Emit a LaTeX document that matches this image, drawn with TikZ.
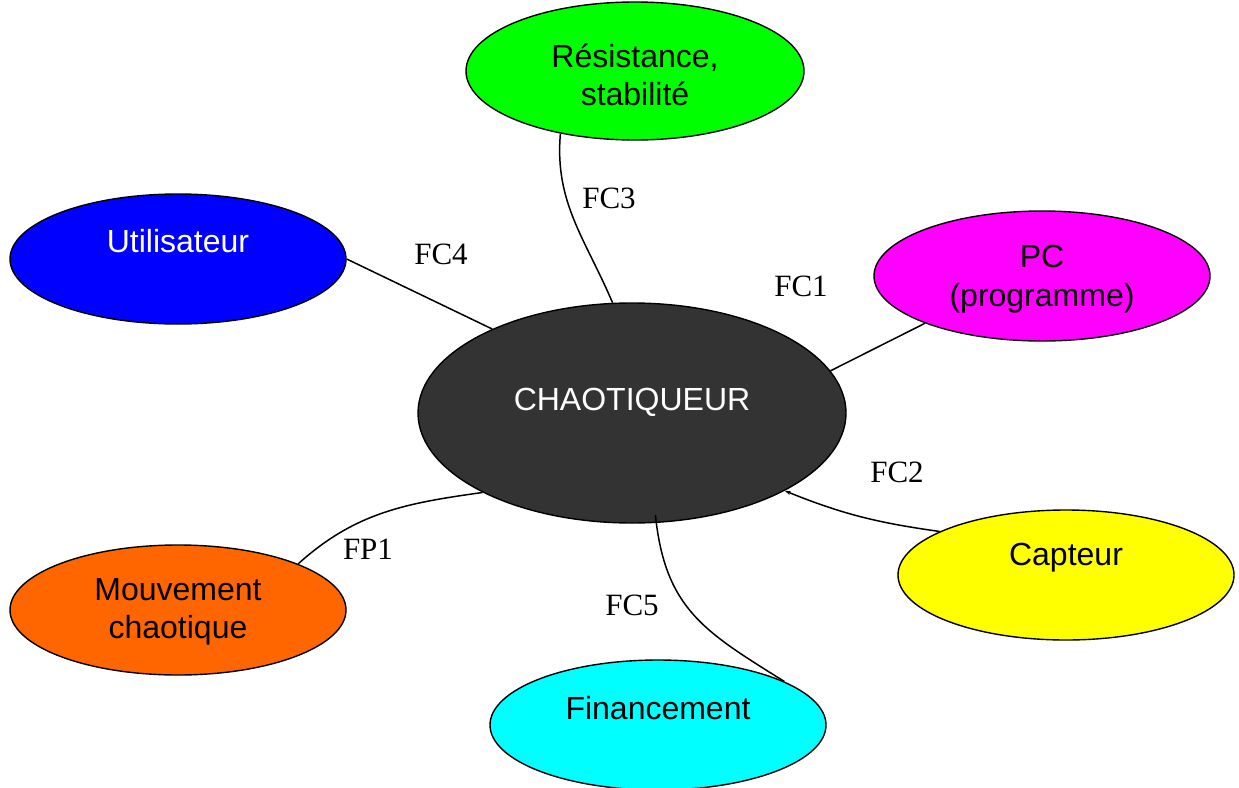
\documentclass[tikz,border=0pt]{standalone}
\usepackage{fontspec}
\setmainfont{Liberation Serif}
\newfontfamily\arialfont{Liberation Sans}
\usetikzlibrary{shapes.geometric,arrows.meta}
\definecolor{cgreen}{RGB}{0,255,0}
\definecolor{cblue}{RGB}{0,0,255}
\definecolor{cmag}{RGB}{255,0,255}
\definecolor{cdark}{RGB}{51,51,51}
\definecolor{cyel}{RGB}{255,255,0}
\definecolor{corange}{RGB}{255,102,0}
\definecolor{ccyan}{RGB}{0,255,255}
\tikzset{
  oval/.style={ellipse, draw=black, line width=1.4pt, inner sep=0pt,
    minimum width=336pt, minimum height=130pt},
  txt/.style={font=\arialfont\fontsize{32}{38.5}\selectfont, align=center, inner sep=0pt},
  lab/.style={font=\fontsize{31}{36}\selectfont, inner sep=0pt},
  conn/.style={draw=black, line width=1.5pt}
}
\begin{document}
\begin{tikzpicture}[x=1pt,y=1pt]
\useasboundingbox (0,0) rectangle (1239,-787);
% ellipses
\node[oval, fill=cgreen, minimum width=338pt, minimum height=138pt] (res) at (635,-71) {};
\node[oval, fill=cblue] (util) at (178,-259) {};
\node[oval, fill=cmag] (pc) at (1042,-276) {};
\node[oval, fill=cdark, minimum width=428pt, minimum height=220pt] (chaos) at (632,-413) {};
\node[oval, fill=cyel] (capt) at (1066,-575) {};
\node[oval, fill=corange] (mouv) at (178,-610) {};
\node[oval, fill=ccyan] (fin) at (658,-725) {};
% texts
\node[txt] (tres) at (635,-75) {Résistance,\\stabilité};
\node[txt, text=white] (tutil) at (178,-241) {Utilisateur};
\node[txt] (tpc) at (1042,-279) {PC\\(programme)};
\node[txt, text=white] (tchaos) at (632,-402) {CHAOTIQUEUR};
\node[txt] (tcapt) at (1066,-558) {Capteur};
\node[txt] (tmouv) at (178,-612) {Mouvement\\chaotique};
\node[txt] (tfin) at (658,-708) {Financement};
% connectors
\draw[conn] (res.220.5) to[out=-95, in=113] (chaos.100);
\draw[conn] (util.0) -- (chaos.149.7);
\draw[conn] (pc.202.2) -- (chaos.12.5);
\draw[conn, -{Stealth[length=6pt,width=4pt]}] (capt.161.8) to[out=172, in=-22] (chaos.-27.6);
\draw[conn] (mouv.21.4) to[out=42, in=188] (chaos.208.3);
\draw[conn] ([yshift=8pt]chaos.-78) to[out=-84, in=148, looseness=1.15] (fin.19);
% labels
\node[lab] (l3) at (609,-198) {FC3};
\node[lab] (l4) at (441,-254) {FC4};
\node[lab] (l1) at (801,-286) {FC1};
\node[lab] (l2) at (897,-472) {FC2};
\node[lab] (lp1) at (368,-549) {FP1};
\node[lab] (l5) at (632,-605) {FC5};
\end{tikzpicture}
\end{document}
